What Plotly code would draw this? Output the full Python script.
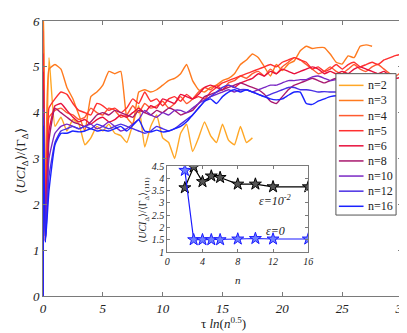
import numpy as np
import plotly.graph_objects as go

# shared time grid: start transient then step 0.5
T = [0.0, 0.03, 0.2, 0.5] + list(np.arange(1.0, 30.01, 0.5))

labels = ["n=2", "n=3", "n=4", "n=5", "n=6", "n=8", "n=10", "n=12", "n=16"]
colors = ["#FFA726", "#FF7A1E", "#FF5A30", "#FF3030", "#E8103C", "#A8186E", "#7A28C4", "#4A30E4", "#1A22FF"]

y_n2 = [0, 6.5, 1.3, 5.2,
        3.7, 3.9, 3.6, 3.85, 3.75, 3.3, 3.45, 3.7, 3.6, 3.75, 3.55, 3.5, 3.35, 3.75, 4.15, 3.25, 3.7,
        3.95, 3.45, 3.35, 3.0, 3.55, 3.75, 3.15, 3.45, 3.8, 3.5, 3.35, 3.75, 3.4, 3.3, 3.7, 3.35, 3.45]
y_n3 = [0, 6.3, 1.4, 4.95,
        5.05, 4.95, 4.55, 4.3, 3.95, 3.6, 4.35, 4.45, 4.6, 4.9, 4.85, 4.9, 3.9, 3.75, 4.45, 4.5, 4.45,
        4.5, 4.6, 4.7, 4.75, 4.85, 5.05, 4.7, 4.5, 4.45, 4.55, 4.6, 4.7, 4.75, 4.85, 5.05, 5.15, 5.28,
        5.2, 5.0, 4.8, 5.05, 4.92, 5.06, 5.13, 5.35, 5.45, 5.4, 5.42, 5.42, 5.28, 5.1, 5.06, 5.24, 5.2,
        5.45, 5.48, 5.45]
y_n4 = [0, 5.8, 1.3, 3.9,
        4.05, 4.1, 4.0, 3.95, 3.85, 3.9, 4.1, 4.0, 3.95, 4.1, 4.05, 3.9, 3.95, 4.15, 4.0, 4.2, 4.1,
        4.15, 4.25, 4.1, 4.2, 4.35, 4.2, 4.3, 4.45, 4.55, 4.5, 4.6, 4.5, 4.65, 4.7, 4.8, 4.75, 4.85,
        4.9, 4.8, 4.95, 4.85, 5.0, 5.1, 5.2, 5.15, 5.05, 4.95, 4.85, 4.9, 5.0, 4.9, 4.85, 4.95, 5.05,
        4.95, 4.9, 5.0, 5.05, 4.95, 4.85, 4.8, 4.9]
y_n5 = [0, 5.3, 1.25, 4.1,
        4.3, 4.45, 4.4, 4.2, 4.05, 4.0, 3.95, 4.2, 4.15, 4.05, 4.1, 4.0, 4.1, 4.3, 4.2, 4.45, 4.25,
        4.3, 4.15, 4.3, 4.35, 4.25, 4.4, 4.3, 4.35, 4.3, 4.45, 4.55, 4.65, 4.7, 4.75, 4.8, 4.85, 4.9,
        4.95, 5.0, 5.05, 5.0, 5.1, 5.15, 5.2, 5.15, 5.1, 4.95, 5.0, 4.9, 4.95, 5.05, 4.95, 5.05, 5.1,
        5.0, 5.05, 5.1, 5.05, 5.15, 5.2, 5.25, 5.28]
y_n6 = [0, 4.9, 1.2, 3.6,
        4.15, 4.2, 4.05, 3.9, 3.8, 3.85, 3.75, 3.85, 3.9, 3.8, 3.85, 3.95, 3.9, 4.0, 4.1, 4.0, 4.15,
        4.1, 4.3, 4.25, 4.2, 4.4, 4.35, 4.3, 4.4, 4.55, 4.6, 4.55, 4.5, 4.6, 4.55, 4.65, 4.7, 4.75,
        4.85, 4.8, 4.9, 4.85, 4.95, 4.9, 4.85, 4.9, 4.95, 5.0, 4.95, 4.85, 4.9, 4.85, 4.9, 4.85, 4.95,
        5.0, 4.95, 4.9, 4.85, 4.9, 4.8, 4.75, 4.78]
y_n8 = [0, 4.5, 1.2, 3.4,
        4.1, 4.0, 3.9, 3.8, 3.75, 3.7, 3.8, 3.95, 4.0, 3.95, 4.05, 4.0, 3.95, 3.9, 4.05, 4.0, 3.95,
        4.05, 4.0, 4.1, 4.05, 3.95, 4.0, 4.05, 4.2, 4.35, 4.4, 4.45, 4.5, 4.55, 4.6, 4.65, 4.6, 4.55,
        4.5, 4.4, 4.25, 4.2, 4.35, 4.5, 4.6, 4.65, 4.7, 4.75, 4.7, 4.65, 4.7, 4.75, 4.7, 4.75, 4.7,
        4.75, 4.7]
y_n10 = [0, 4.1, 1.2, 3.0,
         3.55, 3.7, 3.75, 3.7, 3.65, 3.7, 3.75, 3.65, 3.7, 3.8, 3.7, 3.6, 3.65, 3.75, 3.85, 4.05, 3.95,
         3.9, 4.0, 3.95, 4.05, 4.05, 4.0, 4.1, 4.2, 4.28, 4.35, 4.4, 4.45, 4.5, 4.45, 4.5, 4.5, 4.45,
         4.5, 4.55, 4.6, 4.6, 4.65, 4.7, 4.7, 4.72, 4.72, 4.78, 4.8, 4.75, 4.7, 4.72, 4.7, 4.7, 4.7]
y_n12 = [0, 3.9, 1.2, 2.6,
         3.35, 3.6, 3.65, 3.7, 3.65, 3.7, 3.65, 3.75, 3.7, 3.65, 3.7, 3.75, 3.7, 3.65, 3.6, 3.55, 3.6,
         3.7, 3.65, 3.6, 3.65, 3.75, 3.85, 3.95, 4.1, 4.25, 4.35, 4.45, 4.55, 4.6, 4.55, 4.5, 4.5, 4.45,
         4.4, 4.35, 4.4, 4.45, 4.5, 4.55, 4.55, 4.5, 4.5, 4.48, 4.45, 4.46, 4.45, 4.45, 4.45, 4.45, 4.45]
y_n16 = [0, 3.72, 1.17, 2.3,
         3.3, 3.55, 3.55, 3.6, 3.58, 3.6, 3.65, 3.6, 3.62, 3.6, 3.65, 3.7, 3.6, 3.72, 3.85, 3.6, 3.58,
         3.62, 3.58, 3.6, 3.65, 3.7, 3.8, 3.95, 4.1, 4.25, 4.3, 4.2, 4.35, 4.45, 4.5, 4.45, 4.5, 4.45,
         4.4, 4.35, 4.3, 4.28, 4.3, 4.38, 4.45, 4.45, 4.2, 4.18, 4.25, 4.3, 4.35, 4.37, 4.35, 4.35, 4.35]

series = [y_n2, y_n3, y_n4, y_n5, y_n6, y_n8, y_n10, y_n12, y_n16]

# inset data
inset_n = [2, 3, 4, 5, 6, 8, 10, 12, 16]
inset_eps2 = [3.62, 4.47, 3.87, 4.1, 4.04, 3.77, 3.77, 3.66, 3.66]
inset_eps0 = [4.33, 1.5, 1.5, 1.5, 1.5, 1.53, 1.55, 1.53, 1.53]

fig = go.Figure()
for lab, col, ys in zip(labels, colors, series):
    fig.add_trace(go.Scatter(x=T[:len(ys)], y=ys, mode="lines", name=lab, showlegend=False,
                             line=dict(color=col, width=1.4, shape="spline", smoothing=0.4),
                             xaxis="x", yaxis="y"))

fig.add_trace(go.Scatter(x=inset_n, y=inset_eps2, mode="lines+markers", showlegend=False,
                         line=dict(color="black", width=1.2),
                         marker=dict(symbol="star", size=9, color="#555555", line=dict(color="black", width=1)),
                         xaxis="x2", yaxis="y2"))
fig.add_trace(go.Scatter(x=inset_n, y=inset_eps0, mode="lines+markers", showlegend=False,
                         line=dict(color="#1a1aff", width=1.2),
                         marker=dict(symbol="star", size=9, color="#7080ff", line=dict(color="#1a1aff", width=1)),
                         xaxis="x2", yaxis="y2"))

tickf = dict(family="Liberation Serif", size=13, color="#222", style="italic")
axcol = "#7a7a7a"
fig.update_layout(
    width=407, height=333,
    margin=dict(l=35, r=8, t=6, b=45),
    paper_bgcolor="white", plot_bgcolor="white",
    showlegend=False,
    xaxis=dict(domain=[0, 1], range=[0, 30], tickvals=[0, 5, 10, 15, 20, 25, 30],
               ticks="inside", ticklen=4, tickcolor=axcol, showline=True, linecolor=axcol,
               mirror="ticks", showgrid=False, zeroline=False, tickfont=tickf),
    yaxis=dict(domain=[0, 1], range=[0, 6], tickvals=[0, 1, 2, 3, 4, 5, 6],
               ticks="inside", ticklen=4, tickcolor=axcol, showline=True, linecolor=axcol,
               mirror="ticks", showgrid=False, zeroline=False, tickfont=tickf),
    xaxis2=dict(domain=[0.346, 0.739], anchor="y2", range=[0, 16], tickvals=[0, 4, 8, 12, 16],
                ticks="inside", ticklen=3, tickcolor=axcol, showline=True, linecolor=axcol,
                mirror="ticks", showgrid=False, zeroline=False,
                tickfont=dict(family="Liberation Serif", size=10, color="#222", style="italic")),
    yaxis2=dict(domain=[0.160, 0.472], anchor="x2", range=[1, 4.5],
                tickvals=[1, 1.5, 2, 2.5, 3, 3.5, 4, 4.5], ticktext=["1", "1.5", "2", "2.5", "3", "3.5", "4", "4.5"],
                ticks="inside", ticklen=3, tickcolor=axcol, showline=True, linecolor=axcol,
                mirror="ticks", showgrid=False, zeroline=False,
                tickfont=dict(family="Liberation Serif", size=10, color="#222", style="italic")),
)

serif = "Liberation Serif"

# custom legend box (pixel layout converted to paper coords)
def px_x(px):
    return (px - 35) / 364.0

def px_y(py):
    return (288 - py) / 282.0

fig.add_shape(type="rect", xref="paper", yref="paper", layer="above",
              x0=px_x(332), x1=px_x(393), y0=px_y(205), y1=px_y(60),
              fillcolor="white", line=dict(color="#555", width=1))
for i, (lab, col) in enumerate(zip(labels, colors)):
    yy = px_y(72 + 15.5 * i)
    fig.add_shape(type="line", xref="paper", yref="paper", layer="above",
                  x0=px_x(335), x1=px_x(360), y0=yy, y1=yy, line=dict(color=col, width=1.5))
    fig.add_annotation(x=px_x(363), y=yy, xref="paper", yref="paper", showarrow=False,
                       xanchor="left", yanchor="middle", text=lab,
                       font=dict(family=serif, size=12, color="#222"))

fig.add_annotation(x=px_x(218), y=px_y(316), xref="paper", yref="paper", showarrow=False,
                   xanchor="center", yanchor="middle",
                   text="τ <i>ln</i>(<i>n</i><sup>0.5</sup>)",
                   font=dict(family=serif, size=13, color="#222"))
fig.add_annotation(x=px_x(13), y=0.49, xref="paper", yref="paper", showarrow=False, textangle=-90,
                   xanchor="center", yanchor="middle",
                   text="⟨<i>UCI</i><sub>Δ</sub>⟩/⟨Γ<sub>Δ</sub>⟩",
                   font=dict(family=serif, size=13, color="#222"))
fig.add_annotation(x=px_x(137), y=px_y(200), xref="paper", yref="paper", showarrow=False, textangle=-90,
                   xanchor="center", yanchor="middle",
                   text="⟨<i>UCI</i><sub>Δ</sub>⟩/⟨Γ<sub>Δ</sub>⟩<sub>(111)</sub>",
                   font=dict(family=serif, size=10, color="#222"))
fig.add_annotation(x=px_x(233), y=px_y(272), xref="paper", yref="paper", showarrow=False,
                   xanchor="center", yanchor="middle",
                   text="<i>n</i>", font=dict(family=serif, size=11, color="#222"))
fig.add_annotation(x=12.2, y=3.1, xref="x2", yref="y2", showarrow=False,
                   text="<i>ε=10<sup>-2</sup></i>", font=dict(family=serif, size=12, color="#222"))
fig.add_annotation(x=12.3, y=1.86, xref="x2", yref="y2", showarrow=False,
                   text="<i>ε=0</i>", font=dict(family=serif, size=12, color="#222"))

fig.write_html("out.html")
